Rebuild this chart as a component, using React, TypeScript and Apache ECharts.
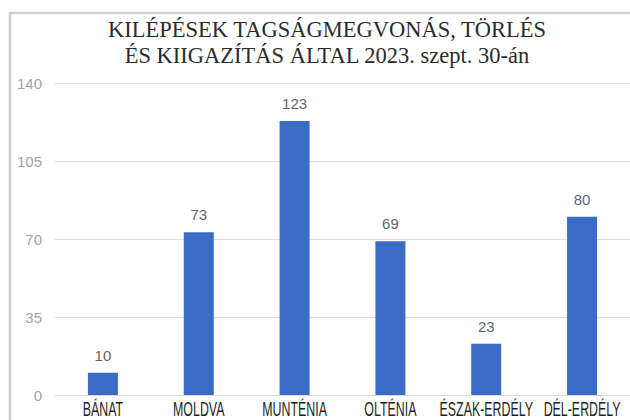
import React, { useEffect, useRef } from "react";
import * as echarts from "echarts";

const titleLines = ["KILÉPÉSEK TAGSÁGMEGVONÁS, TÖRLÉS", "ÉS KIIGAZÍTÁS ÁLTAL 2023. szept. 30-án"];
const categories = ["BÁNAT", "MOLDVA", "MUNTÉNIA", "OLTÉNIA", "ÉSZAK-ERDÉLY", "DÉL-ERDÉLY"];
const values = [10, 73, 123, 69, 23, 80];
const yMin = 0;
const yMax = 140;
const yInterval = 35;

export default function App() {
  const ref = useRef<HTMLDivElement>(null);
  useEffect(() => {
    if (!ref.current) return;
    const chart = echarts.init(ref.current, null, { renderer: "svg" });
    const baseGraphics: any[] = [
      {
        type: "polyline",
        shape: { points: [[10, 420], [10, 13], [630, 13]] },
        style: { stroke: "#cfcfcf", lineWidth: 2.5, fill: "none" },
        silent: true,
        z: 1,
      },
      {
        type: "rect",
        shape: { x: 60, y: 396, width: 560, height: 24 },
        style: { fill: "#ffffff" },
        silent: true,
        z: 1,
      },
    ];
    chart.setOption({
      animation: false,
      backgroundColor: "#ffffff",
      title: {
        text: titleLines.join("\n"),
        left: 322,
        top: 11,
        textAlign: "center",
        textStyle: {
          fontFamily: "Liberation Serif, serif",
          fontWeight: "normal",
          fontSize: 22.5,
          lineHeight: 26,
          color: "#2b2b2b",
        },
      },
      graphic: baseGraphics,
      grid: { left: 55, right: 0, top: 83, bottom: 25, containLabel: false },
      xAxis: {
        type: "category",
        data: categories,
        axisLine: { show: false },
        axisTick: { show: false },
        axisLabel: { show: false },
      },
      yAxis: {
        type: "value",
        min: yMin,
        max: yMax,
        interval: yInterval,
        z: 0,
        axisLine: { show: false },
        axisTick: { show: false },
        axisLabel: {
          margin: 13,
          color: "#a3a3a3",
          fontSize: 15,
          fontFamily: "Helvetica, Arial, Liberation Sans, sans-serif",
        },
        splitLine: { lineStyle: { color: "#dcdcdc", width: 1 } },
      },
      series: [
        {
          type: "bar",
          data: values,
          barWidth: 30,
          z: 2,
          itemStyle: { color: "#3a6bc6" },
          label: {
            show: true,
            position: "top",
            distance: 10,
            color: "#666666",
            fontSize: 15,
            fontFamily: "Helvetica, Arial, Liberation Sans, sans-serif",
          },
        },
      ],
    });
    const zeroY = chart.convertToPixel({ yAxisIndex: 0 }, 0) as number;
    const labelGraphics = categories.map((c) => ({
      type: "text",
      x: chart.convertToPixel({ xAxisIndex: 0 }, c) as number,
      y: zeroY + 14,
      scaleX: 0.62,
      z: 3,
      silent: true,
      style: {
        text: c,
        align: "center",
        verticalAlign: "middle",
        fill: "#1f1f1f",
        fontSize: 20,
        fontFamily: "Liberation Sans, Arial, sans-serif",
      },
    }));
    chart.setOption({ graphic: [...baseGraphics, ...labelGraphics] });
    return () => chart.dispose();
  }, []);
  return (
    <div
      ref={ref}
      style={{ position: "fixed", left: 0, top: 0, width: 630, height: 420 }}
    />
  );
}
